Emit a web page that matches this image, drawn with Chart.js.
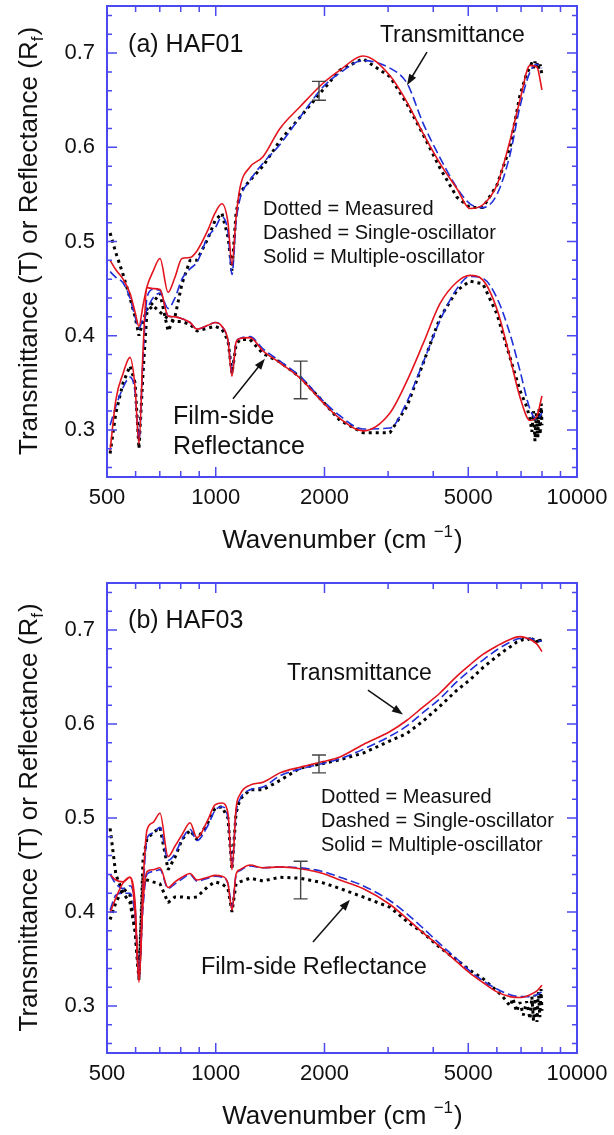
<!DOCTYPE html>
<html>
<head>
<meta charset="utf-8">
<script src="https://cdn.jsdelivr.net/npm/chart.js@4.4.0/dist/chart.umd.min.js"></script>
<style>
  html, body { margin: 0; padding: 0; background: #fff; }
  canvas { display: block; }
</style>
</head>
<body>
<canvas id="panel-a" width="614" height="567"></canvas>
<canvas id="panel-b" width="614" height="568"></canvas>
<script>

// Wellenzahl-Raster der Modellkurven (cm^-1)
const wavenumbers = [510, 529, 554, 579, 598, 613, 629, 645, 670, 701, 738, 771, 806, 849, 887, 951, 995,
    1040, 1081, 1109, 1138, 1167, 1244, 1351, 1506, 1711, 1981, 2207, 2556, 3036, 3383, 3745, 4175, 4652,
    5054, 5490, 6004, 6523, 6950, 7412, 7748, 7998];

// (a) HAF01
const tMultiA = [0.480, 0.470, 0.460, 0.445, 0.425, 0.410, 0.432, 0.452, 0.468, 0.482, 0.446, 0.462, 0.482, 0.483,
    0.490, 0.512, 0.530, 0.540, 0.520, 0.475, 0.525, 0.557, 0.579, 0.590, 0.620, 0.643, 0.668, 0.682, 0.697, 0.676,
    0.648, 0.615, 0.583, 0.556, 0.535, 0.539, 0.560, 0.607, 0.650, 0.687, 0.685, 0.661];
const tSingleA = [0.468, 0.462, 0.456, 0.440, 0.420, 0.408, 0.418, 0.428, 0.440, 0.445, 0.429, 0.440, 0.460, 0.471,
    0.478, 0.505, 0.514, 0.526, 0.510, 0.465, 0.520, 0.545, 0.565, 0.583, 0.603, 0.632, 0.664, 0.679, 0.692, 0.684,
    0.668, 0.626, 0.589, 0.557, 0.540, 0.536, 0.550, 0.592, 0.643, 0.680, 0.688, 0.684];
const rMultiA = [0.278, 0.332, 0.360, 0.377, 0.345, 0.285, 0.384, 0.451, 0.450, 0.449, 0.421, 0.420, 0.418, 0.414,
    0.407, 0.411, 0.414, 0.410, 0.395, 0.357, 0.393, 0.397, 0.398, 0.384, 0.371, 0.355, 0.329, 0.312, 0.299, 0.318,
    0.352, 0.391, 0.434, 0.457, 0.464, 0.459, 0.428, 0.377, 0.335, 0.310, 0.315, 0.336];
const rSingleA = [0.305, 0.325, 0.345, 0.356, 0.340, 0.290, 0.375, 0.440, 0.449, 0.448, 0.421, 0.420, 0.418, 0.414,
    0.407, 0.411, 0.414, 0.410, 0.395, 0.362, 0.393, 0.397, 0.399, 0.386, 0.373, 0.357, 0.331, 0.315, 0.301, 0.302,
    0.330, 0.371, 0.416, 0.450, 0.463, 0.461, 0.440, 0.402, 0.363, 0.322, 0.311, 0.318];
// Messwerte: Raster bis 6950 cm^-1, danach verrauschtes Ende
const tMeasA = [0.509, 0.488, 0.465, 0.440, 0.420, 0.400, 0.415, 0.428, 0.435, 0.445, 0.405, 0.420, 0.455, 0.480,
    0.480, 0.503, 0.522, 0.530, 0.505, 0.469, 0.530, 0.552, 0.565, 0.580, 0.607, 0.632, 0.661, 0.682, 0.694, 0.675,
    0.646, 0.614, 0.578, 0.547, 0.536, 0.536, 0.560, 0.600, 0.655];
const rMeasA = [0.275, 0.318, 0.350, 0.368, 0.350, 0.280, 0.360, 0.425, 0.432, 0.425, 0.418, 0.415, 0.415, 0.412,
    0.405, 0.408, 0.410, 0.407, 0.395, 0.360, 0.390, 0.396, 0.396, 0.381, 0.372, 0.356, 0.330, 0.310, 0.297, 0.297,
    0.325, 0.370, 0.419, 0.448, 0.458, 0.455, 0.423, 0.377, 0.342];
const tailWA = [7250, 7412, 7500, 7580, 7650, 7720, 7790, 7850, 7910, 7960, 8000];
const tailTA = [0.678, 0.685, 0.690, 0.684, 0.691, 0.686, 0.690, 0.683, 0.688, 0.681, 0.678];
const tailRA = [0.325, 0.312, 0.298, 0.320, 0.288, 0.318, 0.292, 0.322, 0.295, 0.328, 0.305];

// (b) HAF03
const tMultiB = [0.440, 0.434, 0.432, 0.437, 0.410, 0.325, 0.430, 0.487, 0.495, 0.505, 0.459, 0.470, 0.482, 0.495,
    0.479, 0.498, 0.514, 0.516, 0.505, 0.445, 0.510, 0.525, 0.535, 0.538, 0.548, 0.554, 0.560, 0.565, 0.578, 0.592,
    0.604, 0.618, 0.633, 0.651, 0.663, 0.674, 0.683, 0.690, 0.693, 0.690, 0.685, 0.677];
const tSingleB = [0.440, 0.430, 0.425, 0.428, 0.405, 0.330, 0.420, 0.478, 0.484, 0.490, 0.455, 0.462, 0.477, 0.488,
    0.476, 0.492, 0.508, 0.512, 0.500, 0.450, 0.505, 0.520, 0.530, 0.533, 0.545, 0.552, 0.558, 0.563, 0.573, 0.587,
    0.598, 0.612, 0.627, 0.645, 0.657, 0.668, 0.679, 0.687, 0.691, 0.691, 0.689, 0.688];
const rMultiB = [0.399, 0.415, 0.431, 0.437, 0.400, 0.328, 0.410, 0.443, 0.445, 0.447, 0.426, 0.432, 0.437, 0.441,
    0.434, 0.437, 0.439, 0.438, 0.430, 0.402, 0.440, 0.445, 0.450, 0.447, 0.448, 0.446, 0.441, 0.434, 0.425, 0.408,
    0.393, 0.378, 0.363, 0.347, 0.335, 0.325, 0.315, 0.310, 0.309, 0.312, 0.316, 0.322];
const rSingleB = [0.402, 0.418, 0.420, 0.420, 0.395, 0.335, 0.405, 0.440, 0.443, 0.445, 0.425, 0.430, 0.435, 0.440,
    0.433, 0.436, 0.438, 0.437, 0.430, 0.405, 0.439, 0.444, 0.449, 0.447, 0.448, 0.447, 0.443, 0.437, 0.428, 0.412,
    0.398, 0.383, 0.366, 0.350, 0.337, 0.327, 0.318, 0.312, 0.310, 0.310, 0.312, 0.315];
// Messwerte: Raster bis 5490 cm^-1, danach verrauschtes Ende
const tMeasB = [0.489, 0.440, 0.420, 0.410, 0.380, 0.328, 0.455, 0.478, 0.484, 0.490, 0.445, 0.458, 0.477, 0.487,
    0.477, 0.495, 0.510, 0.512, 0.500, 0.445, 0.505, 0.520, 0.530, 0.530, 0.540, 0.553, 0.558, 0.562, 0.569, 0.582,
    0.590, 0.603, 0.619, 0.636, 0.647, 0.660];
const rMeasB = [0.392, 0.410, 0.425, 0.418, 0.380, 0.330, 0.437, 0.434, 0.432, 0.430, 0.410, 0.416, 0.416, 0.415,
    0.416, 0.427, 0.432, 0.430, 0.425, 0.400, 0.430, 0.432, 0.436, 0.433, 0.437, 0.436, 0.431, 0.425, 0.416, 0.405,
    0.390, 0.378, 0.362, 0.349, 0.338, 0.329];
const tailWB = [6004, 6200, 6350, 6523, 6650, 6800, 6950, 7100, 7250, 7412, 7500, 7580, 7650, 7748, 7820, 7890, 7950, 8000];
const tailTB = [0.672, 0.676, 0.679, 0.682, 0.684, 0.687, 0.688, 0.690, 0.689, 0.691, 0.688, 0.692, 0.687, 0.691, 0.686, 0.690, 0.687, 0.689];
const tailRB = [0.316, 0.311, 0.306, 0.300, 0.308, 0.294, 0.304, 0.290, 0.305, 0.286, 0.310, 0.284, 0.312, 0.283, 0.315, 0.288, 0.318, 0.295];

// Achsen
const xMajor = [500, 1000, 2000, 5000, 10000];
const xMinor = [600, 700, 800, 900, 3000, 4000, 6000, 7000, 8000, 9000];
const yMajor = [0.3, 0.4, 0.5, 0.6, 0.7];
const yMinor = [0.26, 0.28, 0.32, 0.34, 0.36, 0.38, 0.42, 0.44, 0.46, 0.48, 0.52, 0.54, 0.56, 0.58,
    0.62, 0.64, 0.66, 0.68, 0.72, 0.74];

const FONT = "'Liberation Sans', Arial, Helvetica, sans-serif";
const FRAME = '#4a4af0';
const RED = '#e3141e';
const BLUE = '#1f2fd8';

function toPoints(xs, ys) {
    return xs.map(function (x, i) {
        return {x: x, y: ys[i]};
    });
}

function createDatasets(multiT, singleT, measW, measT, multiR, singleR, measR) {
    /*
        Reihenfolge: rot zuoberst, dann blau, dann die Messpunkte.
     */
    let solid = {borderColor: RED, borderWidth: 1.6, cubicInterpolationMode: 'monotone'};
    let dashed = {borderColor: BLUE, borderWidth: 1.6, borderDash: [9, 4], cubicInterpolationMode: 'monotone'};
    let dotted = {borderColor: '#000', borderWidth: 3, borderDash: [3, 4], borderCapStyle: 'butt',
        borderJoinStyle: 'bevel'};

    return [
        Object.assign({label: 'T multiple', data: toPoints(wavenumbers, multiT)}, solid),
        Object.assign({label: 'R multiple', data: toPoints(wavenumbers, multiR)}, solid),
        Object.assign({label: 'T single', data: toPoints(wavenumbers, singleT)}, dashed),
        Object.assign({label: 'R single', data: toPoints(wavenumbers, singleR)}, dashed),
        Object.assign({label: 'T measured', data: toPoints(measW, measT)}, dotted),
        Object.assign({label: 'R measured', data: toPoints(measW, measR)}, dotted)
    ];
}

function drawArrow(ctx, x1, y1, x2, y2) {
    let ang = Math.atan2(y2 - y1, x2 - x1);
    ctx.beginPath();
    ctx.moveTo(x1, y1);
    ctx.lineTo(x2 - 6 * Math.cos(ang), y2 - 6 * Math.sin(ang));
    ctx.stroke();
    ctx.beginPath();
    ctx.moveTo(x2, y2);
    ctx.lineTo(x2 - 11 * Math.cos(ang) + 4 * Math.sin(ang), y2 - 11 * Math.sin(ang) - 4 * Math.cos(ang));
    ctx.lineTo(x2 - 11 * Math.cos(ang) - 4 * Math.sin(ang), y2 - 11 * Math.sin(ang) + 4 * Math.cos(ang));
    ctx.closePath();
    ctx.fill();
}

const decorPlugin = {
    id: 'decor',
    afterDraw: function (chart, args, opts) {
        let ctx = chart.ctx;
        let a = chart.chartArea;
        let sx = chart.scales.x;
        let sy = chart.scales.y;

        ctx.save();

        // Rahmen und Ticks nach innen, auf allen vier Seiten
        ctx.strokeStyle = FRAME;
        ctx.lineWidth = 1.5;
        ctx.beginPath();
        xMajor.concat(xMinor).forEach(function (v) {
            let len = xMajor.indexOf(v) >= 0 ? 10 : 6;
            let px = sx.getPixelForValue(v);
            ctx.moveTo(px, a.bottom); ctx.lineTo(px, a.bottom - len);
            ctx.moveTo(px, a.top); ctx.lineTo(px, a.top + len);
        });
        yMajor.concat(yMinor).forEach(function (v) {
            let len = yMajor.indexOf(v) >= 0 ? 10 : 5;
            let py = sy.getPixelForValue(v);
            ctx.moveTo(a.left, py); ctx.lineTo(a.left + len, py);
            ctx.moveTo(a.right, py); ctx.lineTo(a.right - len, py);
        });
        ctx.stroke();
        ctx.lineWidth = 2;
        ctx.strokeRect(a.left, a.top, a.right - a.left, a.bottom - a.top);

        // Fehlerbalken
        ctx.strokeStyle = '#444';
        ctx.lineWidth = 1.4;
        opts.errorBars.forEach(function (e) {
            let px = sx.getPixelForValue(e.x);
            let lo = sy.getPixelForValue(e.low);
            let hi = sy.getPixelForValue(e.high);
            ctx.beginPath();
            ctx.moveTo(px, lo); ctx.lineTo(px, hi);
            ctx.moveTo(px - 7, lo); ctx.lineTo(px + 7, lo);
            ctx.moveTo(px - 7, hi); ctx.lineTo(px + 7, hi);
            ctx.stroke();
        });

        // Pfeile
        ctx.strokeStyle = '#111';
        ctx.fillStyle = '#111';
        ctx.lineWidth = 1.5;
        opts.arrows.forEach(function (ar) {
            drawArrow(ctx, sx.getPixelForValue(ar.from[0]), sy.getPixelForValue(ar.from[1]),
                sx.getPixelForValue(ar.to[0]), sy.getPixelForValue(ar.to[1]));
        });

        // Beschriftungen
        ctx.textAlign = 'left';
        ctx.textBaseline = 'alphabetic';
        opts.labels.forEach(function (l) {
            ctx.font = l.size + 'px ' + FONT;
            let px = sx.getPixelForValue(l.x);
            let py = sy.getPixelForValue(l.y);
            l.lines.forEach(function (line, i) {
                ctx.fillText(line, px, py + i * l.gap);
            });
        });

        // x-Achsentitel mit Hochstellung
        let big = '26px ' + FONT;
        let small = '17px ' + FONT;
        let base = a.bottom + 71;
        ctx.font = big;
        let w1 = ctx.measureText('Wavenumber (cm ').width;
        let w3 = ctx.measureText(')').width;
        ctx.font = small;
        let w2 = ctx.measureText('\u22121').width;
        let start = (a.left + a.right) / 2 - (w1 + w2 + w3) / 2;
        ctx.font = big;
        ctx.fillText('Wavenumber (cm ', start, base);
        ctx.fillText(')', start + w1 + w2 + 1, base);
        ctx.font = small;
        ctx.fillText('\u22121', start + w1, base - 11);

        // y-Achsentitel mit Tiefstellung
        ctx.translate(37, (a.top + a.bottom) / 2);
        ctx.rotate(-Math.PI / 2);
        ctx.font = big;
        let t1 = 'Transmittance (T) or Reflectance (R';
        let y1 = ctx.measureText(t1).width;
        let y3 = ctx.measureText(')').width;
        ctx.font = small;
        let y2 = ctx.measureText('f').width;
        let ys = -(y1 + y2 + y3) / 2;
        ctx.font = big;
        ctx.fillText(t1, ys, 0);
        ctx.fillText(')', ys + y1 + y2 + 1, 0);
        ctx.font = small;
        ctx.fillText('f', ys + y1, 6);

        ctx.restore();
    }
};

function createChart(id, datasets, decor, topPad, axisHeight) {
    let ctx = document.getElementById(id).getContext('2d');
    return new Chart(ctx, {
        type: 'line',
        data: {datasets: datasets},
        options: {
            responsive: false,
            animation: false,
            elements: {point: {radius: 0}, line: {tension: 0}},
            layout: {padding: {left: 0, right: 37, top: topPad, bottom: 0}},
            plugins: {legend: {display: false}, tooltip: {enabled: false}, decor: decor},
            scales: {
                x: {
                    type: 'logarithmic', min: 500, max: 10000,
                    afterBuildTicks: function (s) {
                        s.ticks = xMajor.map(function (v) { return {value: v}; });
                    },
                    afterFit: function (s) {
                        s.height = axisHeight;
                        s.paddingLeft = 0;
                        s.paddingRight = 0;
                    },
                    grid: {display: false, drawTicks: false},
                    border: {display: false},
                    ticks: {
                        callback: function (v) { return String(v); },
                        font: {family: FONT, size: 22}, color: '#111', padding: 8,
                        maxRotation: 0, autoSkip: false
                    }
                },
                y: {
                    type: 'linear', min: 0.25, max: 0.75,
                    afterBuildTicks: function (s) {
                        s.ticks = yMajor.map(function (v) { return {value: v}; });
                    },
                    afterFit: function (s) {
                        s.width = 107;
                        s.paddingTop = 0;
                        s.paddingBottom = 0;
                    },
                    grid: {display: false, drawTicks: false},
                    border: {display: false},
                    ticks: {
                        callback: function (v) { return v.toFixed(1); },
                        font: {family: FONT, size: 22}, color: '#111', padding: 12
                    }
                }
            }
        },
        plugins: [decorPlugin]
    });
}

createChart('panel-a',
    createDatasets(tMultiA, tSingleA, wavenumbers.slice(0, 39).concat(tailWA), tMeasA.concat(tailTA),
        rMultiA, rSingleA, rMeasA.concat(tailRA)),
    {
        errorBars: [{x: 1931, low: 0.650, high: 0.670}, {x: 1718, low: 0.333, high: 0.373}],
        arrows: [{from: [3843, 0.701], to: [3383, 0.666]}, {from: [1116, 0.333], to: [1368, 0.3755]}],
        labels: [
            {lines: ['(a) HAF01'], x: 572, y: 0.701, size: 25, gap: 0},
            {lines: ['Transmittance'], x: 2847, y: 0.712, size: 23, gap: 0},
            {lines: ['Dotted = Measured', 'Dashed = Single-oscillator', 'Solid = Multiple-oscillator'],
                x: 1351, y: 0.528, size: 20, gap: 24},
            {lines: ['Film-side', 'Reflectance'], x: 761, y: 0.306, size: 25, gap: 30}
        ]
    }, 6, 90);

createChart('panel-b',
    createDatasets(tMultiB, tSingleB, wavenumbers.slice(0, 36).concat(tailWB), tMeasB.concat(tailTB),
        rMultiB, rSingleB, rMeasB.concat(tailRB)),
    {
        errorBars: [{x: 1931, low: 0.548, high: 0.567}, {x: 1718, low: 0.414, high: 0.454}],
        arrows: [{from: [2638, 0.636], to: [3298, 0.610]}, {from: [1858, 0.368], to: [2352, 0.413]}],
        labels: [
            {lines: ['(b) HAF03'], x: 572, y: 0.702, size: 25, gap: 0},
            {lines: ['Transmittance'], x: 1575, y: 0.647, size: 23, gap: 0},
            {lines: ['Dotted = Measured', 'Dashed = Single-oscillator', 'Solid = Multiple-oscillator'],
                x: 1956, y: 0.516, size: 20, gap: 24},
            {lines: ['Film-side Reflectance'], x: 910, y: 0.334, size: 23.5, gap: 0}
        ]
    }, 16, 82);

</script>
</body>
</html>
